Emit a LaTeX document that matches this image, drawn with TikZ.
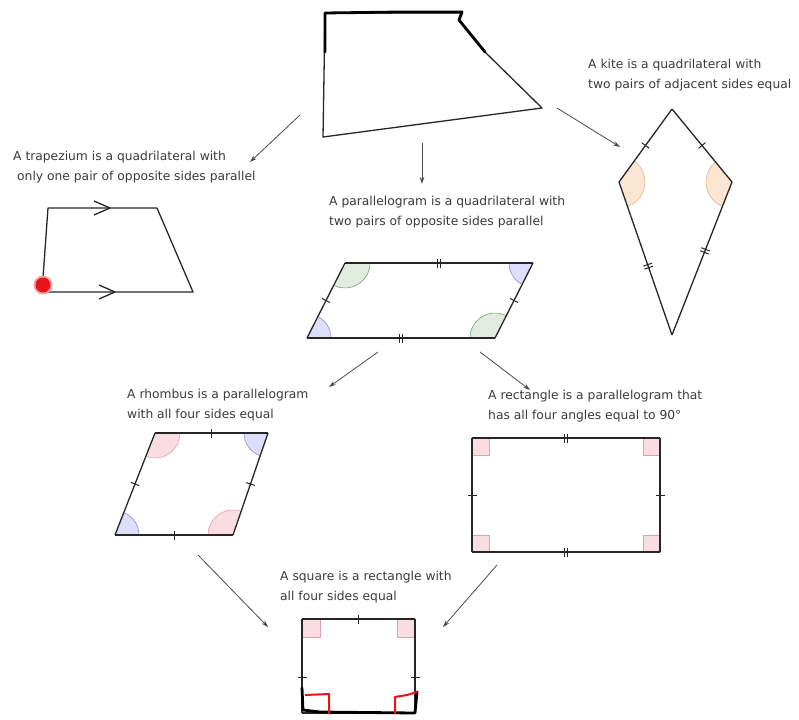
\documentclass[tikz,border=0pt]{standalone}
\usepackage{fontspec}
\setmainfont{DejaVu Sans}
\usetikzlibrary{arrows.meta,angles,decorations.markings,calc}
\definecolor{txt}{HTML}{3A3A3A}
\definecolor{edge}{HTML}{262626}
\definecolor{arr}{HTML}{4A4A4A}
\definecolor{grn}{HTML}{6FA36F}
\definecolor{grnfill}{HTML}{E2EBE0}
\definecolor{blu}{HTML}{8C8CD8}
\definecolor{blufill}{HTML}{DEDEFA}
\definecolor{pnk}{HTML}{E3A0AE}
\definecolor{pnkfill}{HTML}{FADDE3}
\definecolor{org}{HTML}{E2B68C}
\definecolor{orgfill}{HTML}{FBE6D3}
\definecolor{redpen}{HTML}{E8141A}

\tikzset{
  quadline/.style={edge,line width=1.3pt,line join=round},
  note/.style={text=txt,font=\fontsize{12.3}{20}\selectfont,anchor=west,align=left,inner sep=0pt},
  link/.style={arr,line width=0.8pt,-{Stealth[length=7pt,width=4.5pt]}},
  onetick/.style={postaction={decorate,decoration={markings,
    mark=at position #1 with {\draw[edge,line width=1pt] (0,-4.5pt) -- (0,4.5pt);}}}},
  onetick/.default=0.5,
  twotick/.style={postaction={decorate,decoration={markings,
    mark=at position #1 with {\draw[edge,line width=1pt] (-1.6pt,-4.5pt) -- (-1.6pt,4.5pt) (1.6pt,-4.5pt) -- (1.6pt,4.5pt);}}}},
  twotick/.default=0.5,
  angG/.style={draw=grn,fill=grnfill,angle radius=25pt,line width=0.6pt},
  angB/.style={draw=blu,fill=blufill,angle radius=24pt,line width=0.6pt},
  angP/.style={draw=pnk,fill=pnkfill,angle radius=25pt,line width=0.6pt},
  angO/.style={draw=org,fill=orgfill,angle radius=26pt,line width=0.6pt},
  rightbox/.style={draw=pnk,fill=pnkfill,line width=0.6pt},
  scrawl/.style={line width=2.8pt,line cap=round,line join=round},
}

\begin{document}
\begin{tikzpicture}[x=1pt,y=1pt]
\useasboundingbox (0,0) rectangle (799,-719);

% general quadrilateral (hand drawn)
\coordinate (q1) at (325,-13);
\coordinate (q2) at (462,-13);
\coordinate (q3) at (542,-108);
\coordinate (q4) at (323,-137);
\draw[quadline] (q1) -- (q2) -- (459,-20) -- (485,-52) -- (q3) -- (q4) -- cycle;
\draw[scrawl] (325,-52) -- (q1) -- (400,-12) -- (462,-12) -- (459,-20) -- (485,-52);

% trapezium
\node[note] (trapText) at (13,-167) {A trapezium is a quadrilateral with\\\hspace{4pt}only one pair of opposite sides parallel};
\coordinate (t1) at (48,-208);
\coordinate (t2) at (157,-208);
\coordinate (t3) at (193,-292);
\coordinate (t4) at (42,-292);
\draw[quadline] (t1) -- (t2) -- (t3) -- (t4) -- cycle;
\draw[quadline] (94,-201) -- (110,-208) -- (94,-215);
\draw[quadline] (99,-285) -- (115,-292) -- (99,-299);
\fill[redpen!40] (43,-285) circle (9.5);
\fill[redpen] (43,-285) circle (7.5);

% kite
\node[note] (kiteText) at (588,-75) {A kite is a quadrilateral with\\two pairs of adjacent sides equal};
\coordinate (k1) at (672,-109);
\coordinate (k2) at (732,-182);
\coordinate (k3) at (672,-335);
\coordinate (k4) at (619,-182);
\pic[angO] {angle=k1--k2--k3};
\pic[angO] {angle=k3--k4--k1};
\draw[quadline,onetick] (k4) -- (k1);
\draw[quadline,onetick] (k1) -- (k2);
\draw[quadline,twotick=0.45] (k2) -- (k3);
\draw[quadline,twotick=0.55] (k4) -- (k3);

% parallelogram
\node[note] (paraText) at (329,-212) {A parallelogram is a quadrilateral with\\two pairs of opposite sides parallel};
\coordinate (p1) at (345,-263);
\coordinate (p2) at (533,-263);
\coordinate (p3) at (495,-338);
\coordinate (p4) at (307,-338);
\pic[angG] {angle=p4--p1--p2};
\pic[angB] {angle=p1--p2--p3};
\pic[angG] {angle=p2--p3--p4};
\pic[angB] {angle=p3--p4--p1};
\draw[quadline,twotick] (p1) -- (p2);
\draw[quadline,onetick] (p2) -- (p3);
\draw[quadline,twotick] (p4) -- (p3);
\draw[quadline,onetick] (p4) -- (p1);

% rhombus
\node[note] (rhomText) at (127,-405) {A rhombus is a parallelogram\\with all four sides equal};
\coordinate (r1) at (155,-433);
\coordinate (r2) at (268,-433);
\coordinate (r3) at (233,-535);
\coordinate (r4) at (115,-535);
\pic[angP] {angle=r4--r1--r2};
\pic[angB] {angle=r1--r2--r3};
\pic[angP] {angle=r2--r3--r4};
\pic[angB] {angle=r3--r4--r1};
\draw[quadline,onetick] (r1) -- (r2);
\draw[quadline,onetick] (r2) -- (r3);
\draw[quadline,onetick] (r4) -- (r3);
\draw[quadline,onetick] (r4) -- (r1);

% rectangle
\node[note] (rectText) at (488,-406) {A rectangle is a parallelogram that\\has all four angles equal to 90°};
\coordinate (e1) at (472,-438);
\coordinate (e2) at (660,-438);
\coordinate (e3) at (660,-552);
\coordinate (e4) at (472,-552);
\fill[rightbox] (e1) rectangle ++(17,-17);
\fill[rightbox] (e2) rectangle ++(-17,-17);
\fill[rightbox] (e3) rectangle ++(-17,17);
\fill[rightbox] (e4) rectangle ++(17,17);
\draw[quadline,twotick] (e1) -- (e2);
\draw[quadline,onetick] (e2) -- (e3);
\draw[quadline,twotick] (e4) -- (e3);
\draw[quadline,onetick] (e1) -- (e4);

% square
\node[note] (sqText) at (280,-587) {A square is a rectangle with\\all four sides equal};
\coordinate (s1) at (302,-619);
\coordinate (s2) at (415,-619);
\coordinate (s3) at (415,-713);
\coordinate (s4) at (302,-713);
\fill[rightbox] (s1) rectangle ++(18,-18);
\fill[rightbox] (s2) rectangle ++(-18,-18);
\draw[quadline,onetick] (s1) -- (s2);
\draw[quadline,onetick=0.62] (s2) -- (s3);
\draw[quadline] (s3) -- (s4);
\draw[quadline,onetick=0.62] (s1) -- (s4);
% scribbled bottom
\draw[scrawl] (302,-688) -- (303,-710) -- (320,-712) -- (415,-713) -- (417,-692);
\draw[redpen,line width=2pt,line join=round] (305,-695) -- (329,-694) -- (329,-714);
\draw[redpen,line width=2pt,line join=round] (395,-714) -- (395,-697) -- (407,-695) -- (417,-692);

% arrows between the families
\coordinate (fromQuadL) at (300,-115);
\coordinate (toTrap) at (250,-162);
\coordinate (fromQuadM) at (422,-143);
\coordinate (toPara) at (422,-184);
\coordinate (fromQuadR) at (557,-108);
\coordinate (toKite) at (620,-147);
\coordinate (fromParaL) at (378,-352);
\coordinate (toRhom) at (329,-387);
\coordinate (fromParaR) at (480,-352);
\coordinate (toRect) at (530,-390);
\coordinate (fromRhom) at (198,-555);
\coordinate (toSqL) at (268,-627);
\coordinate (fromRect) at (497,-565);
\coordinate (toSqR) at (443,-627);
\draw[link] (fromQuadL) -- (toTrap);
\draw[link] (fromQuadM) -- (toPara);
\draw[link] (fromQuadR) -- (toKite);
\draw[link] (fromParaL) -- (toRhom);
\draw[link] (fromParaR) -- (toRect);
\draw[link] (fromRhom) -- (toSqL);
\draw[link] (fromRect) -- (toSqR);
\end{tikzpicture}
\end{document}
